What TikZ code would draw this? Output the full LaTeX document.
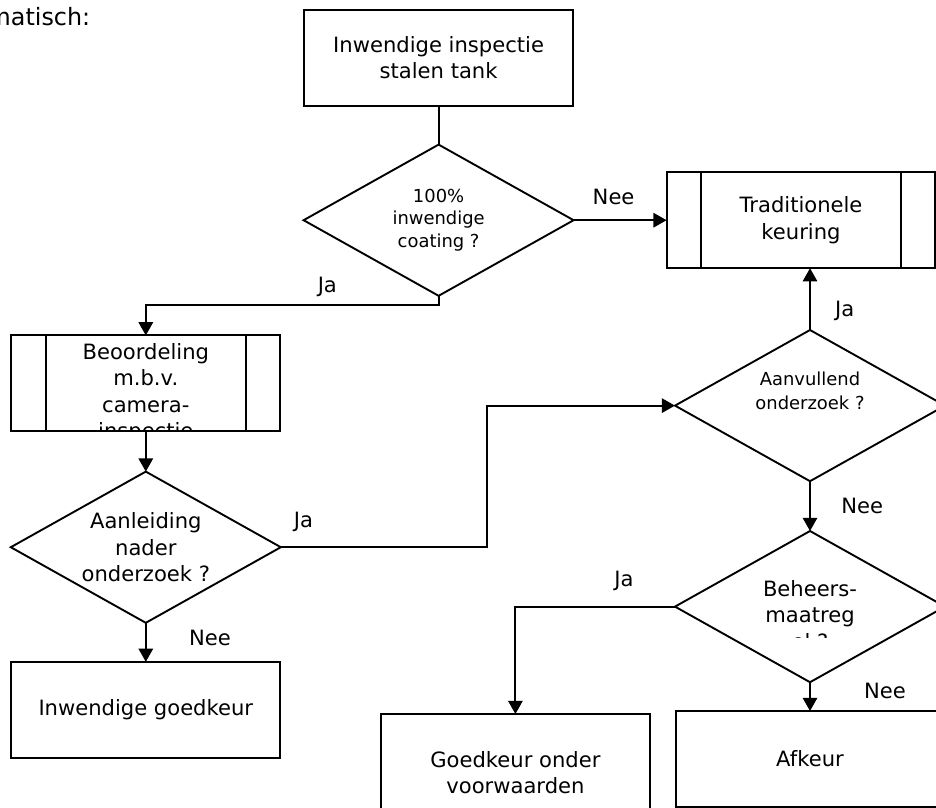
\documentclass[tikz,border=0pt]{standalone}
\usepackage{fontspec}
\setmainfont{DejaVu Sans}
\usepackage{tikz}
\usetikzlibrary{arrows.meta,positioning,shapes.geometric,calc}
\tikzset{
  box/.style={rectangle, draw=black, align=center, minimum width=4.48cm, minimum height=1.6cm, inner sep=2pt, outer sep=0pt, font=\fontsize{10}{12.5}\selectfont},
  procbox/.style={box, append after command={
      ([xshift=0.57cm]\tikzlastnode.north west) edge ([xshift=0.57cm]\tikzlastnode.south west)
      ([xshift=-0.57cm]\tikzlastnode.north east) edge ([xshift=-0.57cm]\tikzlastnode.south east)}},
  decision/.style={diamond, draw=black, align=center, aspect=1.786, minimum width=4.5cm, minimum height=2.52cm, inner sep=0pt, outer sep=0pt, font=\fontsize{10}{12.5}\selectfont},
  smalltext/.style={font=\fontsize{8.5}{10.7}\selectfont},
  boxtext/.style={align=center, inner sep=0pt, font=\fontsize{10}{12.5}\selectfont},
  lbl/.style={inner sep=0pt, font=\fontsize{10}{12}\selectfont},
  arrow/.style={-{Triangle[length=2.2mm, width=2.4mm]}}
}
\begin{document}
\begin{tikzpicture}[line width=0.9pt, node distance=0.65cm]
\useasboundingbox (0,0) rectangle (15.6,-13.45);
\node[anchor=base west, inner sep=0pt, font=\fontsize{11.3}{13}\selectfont] (head) at (-0.22,-0.43) {matisch:};
\node[box] (start) at (7.31,-0.96) {Inwendige inspectie\\stalen tank};
\node[decision, smalltext, below=of start] (coat) {100\%\\inwendige\\coating ?};
\node[procbox, right=1.55cm of coat] (trad) {Traditionele\\keuring};
\node[procbox] (cam) at (2.43,-6.39) {};
\node[decision, below=0.67cm of cam] (aanl) {Aanleiding\\nader\\onderzoek ?};
\node[box, below=of aanl] (goed) {Inwendige goedkeur};
\node[decision, below=1.03cm of trad, xshift=0.15cm] (aanv) {};
\node[decision, below=0.83cm of aanv] (beh) {};
\node[box, below=0.48cm of beh] (afk) {Afkeur};
\node[box, minimum height=1.95cm, anchor=north east] (voorw) at ([xshift=-0.43cm,yshift=-0.05cm]afk.north west) {Goedkeur onder\\voorwaarden};
\node[boxtext, font=\fontsize{8.5}{11.5}\selectfont, yshift=0.25cm] (aanvtxt) at (aanv) {Aanvullend\\onderzoek ?};
\begin{scope}
\clip (cam.south west) rectangle (cam.north east);
\node[boxtext, anchor=north] (camtxt) at ([yshift=-0.12cm]cam.north) {Beoordeling\\m.b.v.\\camera-\\inspectie};
\end{scope}
\begin{scope}
\clip ([xshift=-2.3cm]beh.north) rectangle ([xshift=2.3cm,yshift=-0.52cm]beh.center);
\node[boxtext, anchor=north] (behtxt) at ([yshift=0.45cm]beh.center) {Beheers-\\maatreg\\el ?};
\end{scope}
\draw (start) -- (coat);
\draw[arrow] (coat.east) -- node[lbl, pos=0.43, yshift=0.38cm] (nee1) {Nee} (trad.west);
\draw[arrow] (coat.south) -- ++(0,-0.15) -| node[lbl, pos=0.19, yshift=0.3cm] (ja1) {Ja} (cam.north);
\draw[arrow] (cam.south) -- (aanl.north);
\draw[arrow] (aanl.south) -- node[lbl, pos=0.38, xshift=1.07cm] (nee2) {Nee} (goed.north);
\draw[arrow] (aanl.east) -- node[lbl, pos=0.11, yshift=0.42cm] (ja2) {Ja} ++(3.43,0) |- (aanv.west);
\draw[arrow] (aanv.north) -- node[lbl, pos=0.31, xshift=0.58cm] (ja3) {Ja} (aanv.north |- trad.south);
\draw[arrow] (aanv.south) -- node[lbl, pos=0.5, xshift=0.87cm] (nee3) {Nee} (beh.north);
\draw[arrow] (beh.west) -| node[lbl, pos=0.16, yshift=0.43cm] (ja4) {Ja} (voorw.north);
\draw[arrow] (beh.south) -- node[lbl, pos=0.31, xshift=1.25cm] (nee4) {Nee} (afk.north);
\end{tikzpicture}
\end{document}
